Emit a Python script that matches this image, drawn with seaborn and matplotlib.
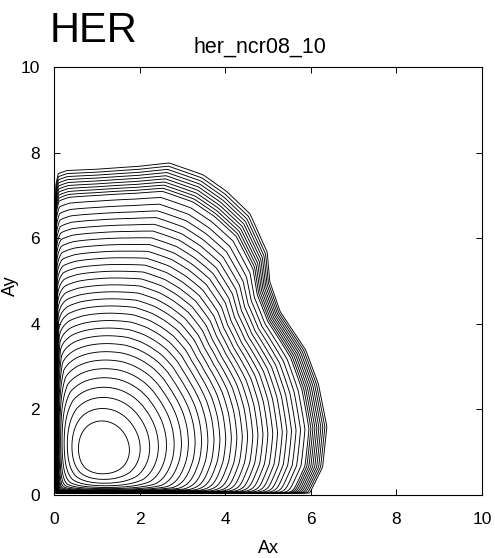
import numpy as np
import matplotlib
matplotlib.use("Agg")
import matplotlib.pyplot as plt
from matplotlib.path import Path
import seaborn as sns

# Centre of the innermost closed contour (Ax, Ay)
core_ax = 1.08
core_ay = 0.95

# Outer edge of the stable region, walked counter-clockwise (Ax, Ay)
edge_ax = [6.00, 6.30, 6.40, 6.20, 5.90, 5.30, 5.06, 5.00, 4.60, 4.05,
           3.50, 2.70, 2.00, 1.00, 0.30, 0.10, 0.045, 0.045]
edge_ay = [0.045, 0.65, 1.60, 2.60, 3.40, 4.30, 5.00, 5.70, 6.60, 7.13,
           7.52, 7.80, 7.72, 7.65, 7.62, 7.55, 7.30, 0.045]

# Contour levels, as fraction of the way from the core to the edge
inner_levels = np.linspace(0.047, 0.85, 30) ** (1 / 1.5)
edge_levels = np.linspace(0.915, 0.995, 10)

ticks = [0, 2, 4, 6, 8, 10]

# Near the Ax=0 / Ay=0 walls the contours pile up; this squeeze handles it
WALL0 = 0.015
WALL_K = 0.08


def squeeze(v, c):
    return (v - c) - WALL_K * (1.0 / (v - WALL0) - 1.0 / (c - WALL0))


# Dense outline of the edge in squeezed coordinates -> radius vs angle
ex = np.array(edge_ax + [edge_ax[0]])
ey = np.array(edge_ay + [edge_ay[0]])
px, py = [], []
for i in range(len(ex) - 1):
    s = np.linspace(0, 1, 300, endpoint=False)
    px.append(ex[i] + (ex[i + 1] - ex[i]) * s)
    py.append(ey[i] + (ey[i + 1] - ey[i]) * s)
px = np.concatenate(px)
py = np.concatenate(py)
EX = squeeze(px, core_ax)
EY = squeeze(py, core_ay)
eth = np.arctan2(EY, EX)
er = np.hypot(EX, EY)
order = np.argsort(eth)
eth, er = eth[order], er[order]

# Edge radius on a regular angle grid, plus a rounded (smoothed) version
ang = np.linspace(-np.pi, np.pi, 720, endpoint=False)
r_edge = np.interp(ang, eth, er, period=2 * np.pi)
dth = ang[1] - ang[0]
sig = 0.7
kern_x = np.arange(-360, 360) * dth
kern = np.exp(-0.5 * (kern_x / sig) ** 2)
kern /= kern.sum()
r_round = np.real(np.fft.ifft(np.fft.fft(r_edge) * np.fft.fft(np.fft.ifftshift(kern))))

# Evaluation grid, finer close to the walls
gx = np.concatenate([np.linspace(0.0, 0.25, 260), np.linspace(0.25, 7.0, 520)[1:]])
gy = np.concatenate([np.linspace(0.0, 0.25, 260), np.linspace(0.25, 8.5, 620)[1:]])
GX, GY = np.meshgrid(gx, gy)
valid = (GX > edge_ax[-1] - 0.004) & (GY > edge_ay[0] - 0.004)
SX = np.where(valid, squeeze(np.where(valid, GX, 1.0), core_ax), 0.0)
SY = np.where(valid, squeeze(np.where(valid, GY, 1.0), core_ay), 0.0)
th = np.arctan2(SY, SX)
rr = np.hypot(SX, SY)
R_e = np.interp(th, ang, r_edge, period=2 * np.pi)
R_r = np.interp(th, ang, r_round, period=2 * np.pi)

# Inner contours are rounded, outer ones take on the shape of the edge
frac = rr / R_r
for _ in range(12):
    w = np.clip(frac, 0, 1) ** 2
    frac = rr / (R_r + (R_e - R_r) * w)

inside = Path(np.column_stack([ex, ey])).contains_points(
    np.column_stack([GX.ravel(), GY.ravel()])).reshape(GX.shape)
frac = np.where(valid & inside, frac, 2.0)
frac = np.minimum(frac, 2.0)

sns.set_theme(style="ticks")
plt.rcParams["font.family"] = ["Liberation Sans", "DejaVu Sans"]
plt.rcParams["text.color"] = "black"
plt.rcParams["axes.labelcolor"] = "black"

fig = plt.figure(figsize=(4.95, 5.58), dpi=100)
ax = fig.add_axes([0.109, 0.113, 0.865, 0.767])

ax.contour(gx, gy, frac, levels=np.concatenate([inner_levels, edge_levels]),
           colors="black", linewidths=0.65)

ax.set_xlim(0, 10)
ax.set_ylim(0, 10)
ax.set_xticks(ticks)
ax.set_yticks(ticks)
ax.set_xticklabels([str(t) for t in ticks])
ax.set_yticklabels([str(t) for t in ticks])
ax.tick_params(direction="in", top=True, right=True, length=4, width=0.7,
               labelsize=12.5, colors="black")
ax.tick_params(axis="x", pad=12)
ax.tick_params(axis="y", pad=10)
for sp in ax.spines.values():
    sp.set_linewidth(0.8)
    sp.set_color("black")
ax.set_xlabel("Ax", fontsize=13)
ax.set_ylabel("Ay", fontsize=13)
ax.xaxis.set_label_coords(0.5, -0.105)
ax.yaxis.set_label_coords(-0.082, 0.49)

fig.text(0.101, 0.925, "HER", fontsize=30, ha="left", va="baseline")
fig.text(0.39, 0.905, "her_ncr08_10", fontsize=15.5, ha="left", va="baseline")

fig.savefig("out.png", dpi=100)
